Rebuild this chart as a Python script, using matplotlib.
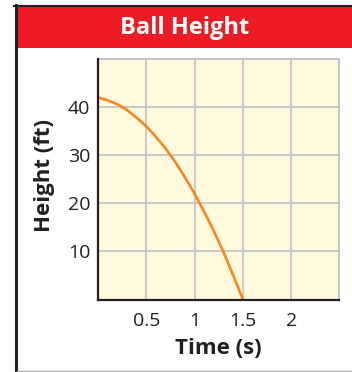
import matplotlib
matplotlib.use("Agg")
import matplotlib.pyplot as plt
from matplotlib.patches import Rectangle
from matplotlib.lines import Line2D

# Data
time_s = [0.0, 0.1, 0.2, 0.3, 0.4, 0.5, 0.6, 0.7, 0.8, 0.9, 1.0, 1.1, 1.2, 1.3, 1.4, 1.5]
height_ft = [42.0, 41.4, 40.6, 39.4, 37.8, 36.0, 33.8, 31.4, 28.6, 25.4, 22.0, 18.2, 14.2, 9.8, 5.0, 0.0]
x_ticks = [0.5, 1, 1.5, 2]
x_tick_labels = ["0.5", "1", "1.5", "2"]
y_ticks = [10, 20, 30, 40]
y_tick_labels = ["10", "20", "30", "40"]
title = "Ball Height"
x_label = "Time (s)"
y_label = "Height (ft)"

W, H = 352, 372
DPI = 100
plt.rcParams['font.family'] = ['Open Sans', 'DejaVu Sans']

fig = plt.figure(figsize=(W / DPI, H / DPI), dpi=DPI)
fig.patch.set_facecolor("white")

def fx(px):
    return px / W

def fy(py):
    return 1 - py / H

text_color = "#231F20"

# Outer frame
fig.add_artist(Rectangle((fx(17), fy(48)), fx(352) - fx(17), fy(7) - fy(48),
                         transform=fig.transFigure, facecolor="#ED1C24", edgecolor="none"))
fig.add_artist(Line2D([fx(15.5), fx(15.5)], [fy(5), fy(372)], transform=fig.transFigure,
                      color=text_color, linewidth=2.2))
fig.add_artist(Line2D([fx(14), fx(352)], [fy(6), fy(6)], transform=fig.transFigure,
                      color=text_color, linewidth=1.5))
fig.add_artist(Line2D([fx(17), fx(352)], [fy(370.5), fy(370.5)], transform=fig.transFigure,
                      color="#A7A9AC", linewidth=1.0))

fig.text(fx(185), fy(34), title, color="white", fontsize=17, fontweight="bold",
         ha="center", va="baseline")

# Axes
left, right, top, bottom = 98, 339.5, 59, 299.5
ax = fig.add_axes([fx(left), fy(bottom), fx(right) - fx(left), fy(top) - fy(bottom)])
ax.set_facecolor("#FFF9DD")
ax.set_xlim(0, 2.5)
ax.set_ylim(0, 50)

grid_color = "#C4C4C4"
for xv in x_ticks:
    ax.axvline(xv, color=grid_color, linewidth=1.3, zorder=1)
for yv in y_ticks:
    ax.axhline(yv, color=grid_color, linewidth=1.3, zorder=1)

ax.plot(time_s, height_ft, color="#F7881F", linewidth=1.9, zorder=3, solid_capstyle="butt")

ax.set_xticks(x_ticks)
ax.set_xticklabels(x_tick_labels)
ax.set_yticks(y_ticks)
ax.set_yticklabels(y_tick_labels)
ax.tick_params(axis="both", length=0, labelsize=14, colors=text_color)
ax.tick_params(axis="x", pad=9)
ax.tick_params(axis="y", pad=5.5)

for s in ["top", "right"]:
    ax.spines[s].set_color(grid_color)
    ax.spines[s].set_linewidth(1.4)
for s in ["left", "bottom"]:
    ax.spines[s].set_color(text_color)
    ax.spines[s].set_linewidth(1.6)
    ax.spines[s].set_zorder(4)

fig.text(fx(218.5), fy(353.5), x_label, fontsize=16, fontweight="bold", color=text_color,
         ha="center", va="baseline")
fig.text(fx(50), fy(176), y_label, fontsize=16, fontweight="bold", color=text_color,
         ha="center", va="baseline", rotation=90, rotation_mode="anchor")

fig.savefig("out.png", dpi=DPI)
